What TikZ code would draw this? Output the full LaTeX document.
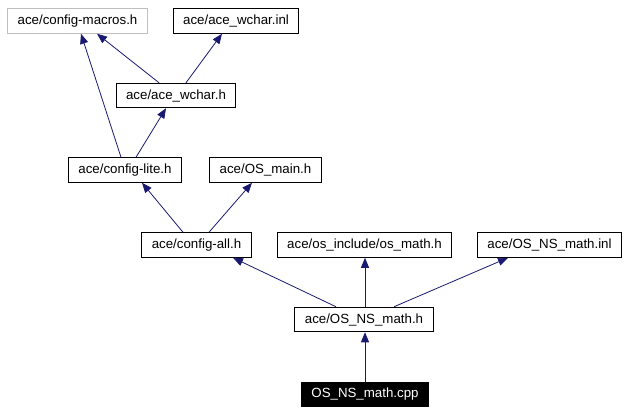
\documentclass[tikz,border=0pt]{standalone}
\usepackage{fontspec}
\setmainfont{Liberation Sans}
\usetikzlibrary{arrows.meta}
\definecolor{edgeblue}{HTML}{191970}
\definecolor{graybox}{HTML}{BFBFBF}
\begin{document}
\begin{tikzpicture}[x=1pt,y=-1pt,
  filebox/.style={draw=black, line width=1pt, rectangle, inner xsep=10pt, inner ysep=0pt,
    minimum height=24.5pt, font=\fontsize{13.3}{15}\selectfont, anchor=center},
  graybox/.style={filebox, draw=graybox},
  rootbox/.style={filebox, fill=black, text=white},
  dep/.style={draw=edgeblue, line width=0.8pt, -{Triangle[length=10pt,width=8pt]}, color=edgeblue}
]
\useasboundingbox (0,0) rectangle (629,413);

\node[graybox] (cm) at (77.5,21) {ace/config-macros.h};
\node[filebox] (winl) at (236,21) {ace/ace\_wchar.inl};
\node[filebox] (wh) at (176,95.5) {ace/ace\_wchar.h};
\node[filebox] (cl) at (125,170) {ace/config-lite.h};
\node[filebox] (om) at (265.5,170) {ace/OS\_main.h};
\node[filebox] (ca) at (196.5,245) {ace/config-all.h};
\node[filebox] (osm) at (364.5,245) {ace/os\_include/os\_math.h};
\node[filebox] (nsinl) at (549.5,245) {ace/OS\_NS\_math.inl};
\node[filebox] (nsh) at (364,319.5) {ace/OS\_NS\_math.h};
\node[rootbox] (cpp) at (365,394.5) {OS\_NS\_math.cpp};

\draw[dep] ([xshift=-17pt]wh.north) -- ([xshift=19.5pt]cm.south);
\draw[dep] ([xshift=10pt]wh.north) -- ([xshift=-14pt]winl.south);
\draw[dep] ([xshift=-4pt]cl.north) -- ([xshift=3.5pt]cm.south);
\draw[dep] ([xshift=11pt]cl.north) -- ([xshift=-10pt]wh.south);
\draw[dep] ([xshift=-13.5pt]ca.north) -- ([xshift=17pt]cl.south);
\draw[dep] ([xshift=12.5pt]ca.north) -- ([xshift=-13.5pt]om.south);
\draw[dep] ([xshift=-28pt]nsh.north) -- ([xshift=36.5pt]ca.south);
\draw[dep] ([xshift=1pt]nsh.north) -- ([xshift=0.5pt]osm.south);
\draw[dep] ([xshift=30pt]nsh.north) -- ([xshift=-41.5pt]nsinl.south);
\draw[dep] (cpp.north) -- ([xshift=1pt]nsh.south);
\end{tikzpicture}
\end{document}
